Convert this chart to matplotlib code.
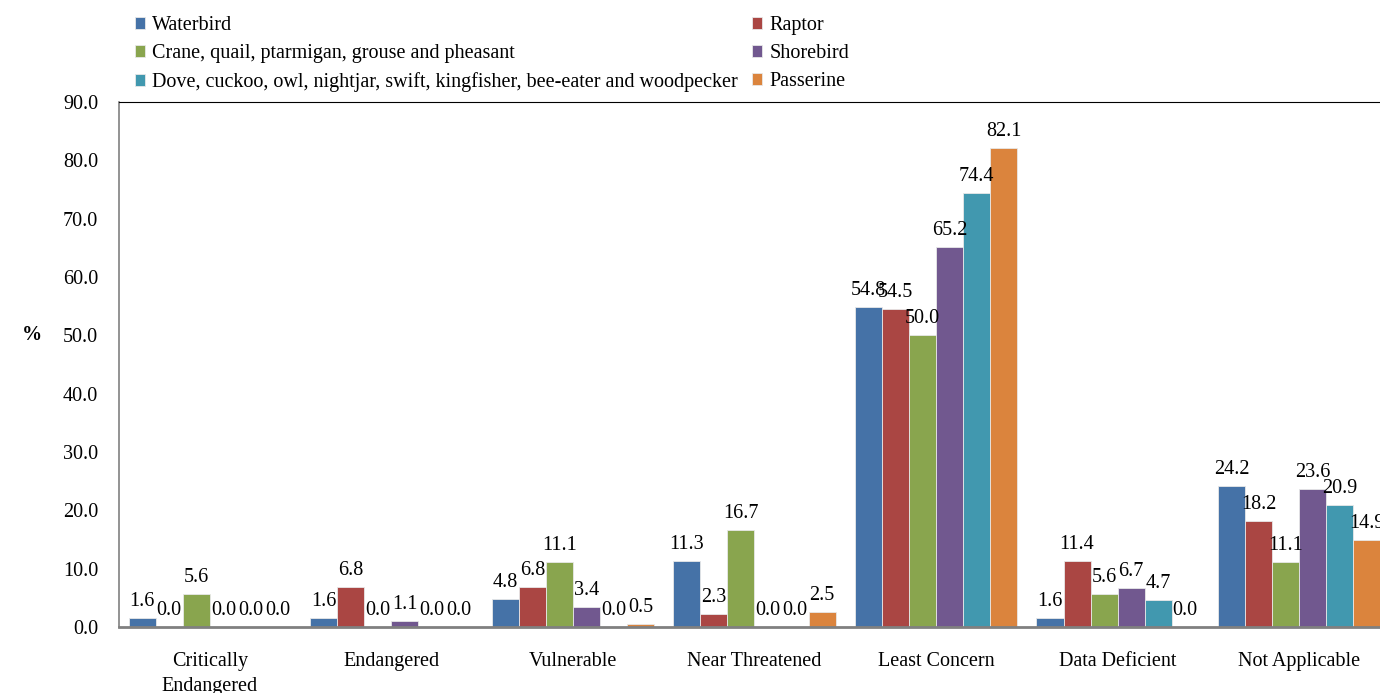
import numpy as np
import matplotlib.pyplot as plt

plt.rcParams['font.family'] = ['Liberation Serif', 'DejaVu Serif']

categories = ['Critically\nEndangered', 'Endangered', 'Vulnerable', 'Near Threatened',
              'Least Concern', 'Data Deficient', 'Not Applicable']
series_names = ['Waterbird', 'Raptor', 'Crane, quail, ptarmigan, grouse and pheasant',
                'Shorebird', 'Dove, cuckoo, owl, nightjar, swift, kingfisher, bee-eater and woodpecker',
                'Passerine']
waterbird = [1.6, 1.6, 4.8, 11.3, 54.8, 1.6, 24.2]
raptor = [0.0, 6.8, 6.8, 2.3, 54.5, 11.4, 18.2]
crane = [5.6, 0.0, 11.1, 16.7, 50.0, 5.6, 11.1]
shorebird = [0.0, 1.1, 3.4, 0.0, 65.2, 6.7, 23.6]
dove = [0.0, 0.0, 0.0, 0.0, 74.4, 4.7, 20.9]
passerine = [0.0, 0.0, 0.5, 2.5, 82.1, 0.0, 14.9]
series = [waterbird, raptor, crane, shorebird, dove, passerine]
colors = ['#4572A7', '#AA4643', '#89A54E', '#71588F', '#4198AF', '#DB843D']

fig = plt.figure(figsize=(13.8, 6.93), dpi=100)
# plot area runs a little past the right edge of the figure
ax = fig.add_axes([119 / 1380, 66 / 693, 1271 / 1380, 525 / 693])

x = np.arange(len(categories))
w = 0.149
fs = 14.5
bars_by_series = []
for i, (vals, col) in enumerate(zip(series, colors)):
    pos = x + (i - 2.5) * w
    b = ax.bar(pos, vals, w, color=col, edgecolor='#e8e8e8', linewidth=0.6,
               label=series_names[i])
    bars_by_series.append(b)
    for px, v in zip(pos, vals):
        ax.annotate(f'{v:.1f}', (px, v), xytext=(0, 5), textcoords='offset points',
                    ha='center', va='bottom', fontsize=fs)

ax.set_xlim(-0.5, len(categories) - 0.5)
ax.set_ylim(0, 90)
ax.set_yticks(np.arange(0, 91, 10))
ax.set_yticklabels([f'{t:.1f}' for t in np.arange(0, 91, 10)], fontsize=fs)
ax.set_xticks(x)
ax.set_xticklabels(categories, fontsize=fs, linespacing=1.4)
ax.tick_params(axis='x', length=0, pad=18)
ax.tick_params(axis='y', length=0, pad=15)
ax.spines['left'].set_color('#808080')
ax.spines['left'].set_linewidth(1.2)
ax.spines['bottom'].set_color('#808080')
ax.spines['bottom'].set_linewidth(2)
ax.spines['top'].set_color('black')
ax.spines['top'].set_linewidth(0.8)
ax.spines['right'].set_visible(False)

fig.text(22 / 1380, 1 - 335 / 693, '%', fontsize=fs, fontweight='bold', ha='left', va='center')

order = [0, 2, 4, 1, 3, 5]
handles = [bars_by_series[k] for k in order]
labels = [series_names[k] for k in order]
fig.legend(handles, labels, ncol=2, loc='upper left', bbox_to_anchor=(125 / 1380, 1 - 6 / 693),
           frameon=False, fontsize=fs, handlelength=0.5, handleheight=0.5,
           handletextpad=0.35, columnspacing=0.7, labelspacing=0.45, borderpad=0)

fig.savefig('out.png', dpi=100)
